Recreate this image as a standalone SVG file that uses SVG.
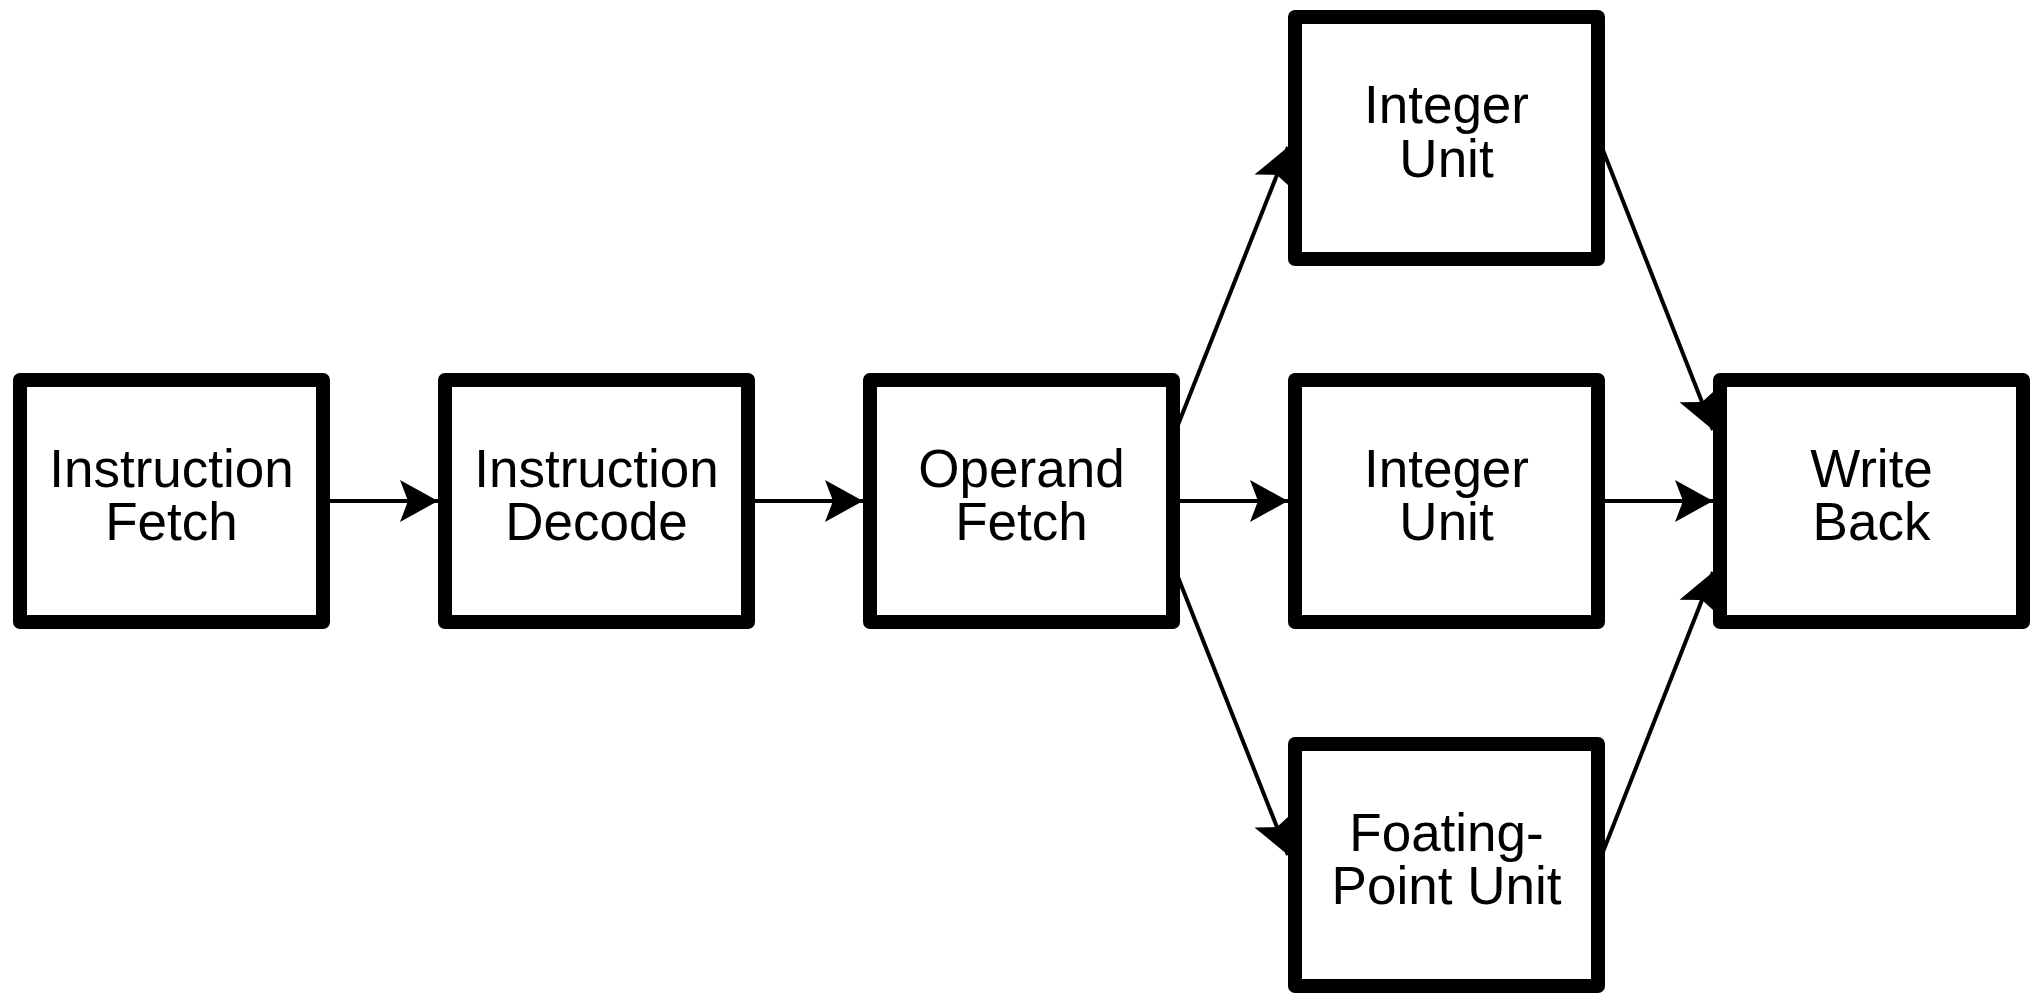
<svg xmlns="http://www.w3.org/2000/svg" width="2039" height="994" viewBox="0 0 2039 994">
  <style>
    .box { fill: #fff; stroke: #000; stroke-width: 14; stroke-linejoin: round; }
    .lbl { font-family: "Liberation Sans", Arial, sans-serif; font-size: 53px; fill: #000; text-anchor: middle; }
    .wire { stroke: #000; stroke-width: 4; fill: none; marker-end: url(#head); }
  </style>
  <defs>
    <marker id="head" markerUnits="userSpaceOnUse" markerWidth="40" markerHeight="44" refX="38" refY="22" orient="auto">
      <path d="M0,1 L38,22 L0,43 L8,22 Z" fill="#000"/>
    </marker>
  </defs>
  <rect width="2039" height="994" fill="#fff"/>

  <!-- connectors (drawn first so box outlines sit on top of their tails) -->
  <g id="connectors">
    <line class="wire" x1="320" y1="501" x2="438" y2="501"/>
    <line class="wire" x1="745" y1="501" x2="863" y2="501"/>
    <line class="wire" x1="1170" y1="501" x2="1288" y2="501"/>
    <line class="wire" x1="1595" y1="501" x2="1713" y2="501"/>
    <line class="wire" x1="1172" y1="440" x2="1288" y2="147"/>
    <line class="wire" x1="1172" y1="562" x2="1288" y2="855"/>
    <line class="wire" x1="1597" y1="135" x2="1713" y2="430"/>
    <line class="wire" x1="1597" y1="867" x2="1713" y2="572"/>
  </g>

  <g id="instruction-fetch">
    <rect class="box" x="20" y="380" width="303" height="242"/>
    <text class="lbl" x="171.5" y="487">Instruction</text>
    <text class="lbl" x="171.5" y="540">Fetch</text>
  </g>
  <g id="instruction-decode">
    <rect class="box" x="445" y="380" width="303" height="242"/>
    <text class="lbl" x="596.5" y="487">Instruction</text>
    <text class="lbl" x="596.5" y="540">Decode</text>
  </g>
  <g id="operand-fetch">
    <rect class="box" x="870" y="380" width="303" height="242"/>
    <text class="lbl" x="1021.5" y="487">Operand</text>
    <text class="lbl" x="1021.5" y="540">Fetch</text>
  </g>
  <g id="integer-unit-1">
    <rect class="box" x="1295" y="17" width="303" height="242"/>
    <text class="lbl" x="1446.5" y="123">Integer</text>
    <text class="lbl" x="1446.5" y="177">Unit</text>
  </g>
  <g id="integer-unit-2">
    <rect class="box" x="1295" y="380" width="303" height="242"/>
    <text class="lbl" x="1446.5" y="487">Integer</text>
    <text class="lbl" x="1446.5" y="540">Unit</text>
  </g>
  <g id="floating-point-unit">
    <rect class="box" x="1295" y="744" width="303" height="242"/>
    <text class="lbl" x="1446.5" y="851">Foating-</text>
    <text class="lbl" x="1446.5" y="904">Point Unit</text>
  </g>
  <g id="write-back">
    <rect class="box" x="1720" y="380" width="303" height="242"/>
    <text class="lbl" x="1871.5" y="487">Write</text>
    <text class="lbl" x="1871.5" y="540">Back</text>
  </g>
</svg>
